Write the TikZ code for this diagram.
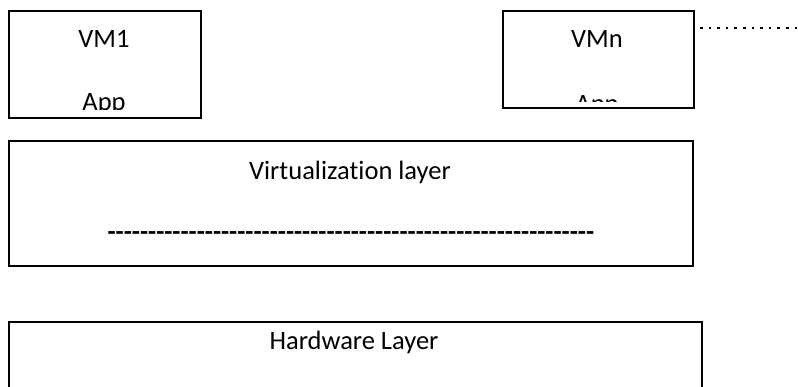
\documentclass[tikz,border=0pt]{standalone}
\usepackage{fontspec}
\newfontfamily\boxfont{Carlito}[Ligatures=NoCommon]
\tikzset{
  layerbox/.style={draw, line width=1.9pt, anchor=north west, inner sep=0pt},
  boxtext/.style={font=\boxfont\fontsize{26.5}{30}\selectfont, anchor=base, inner sep=0pt}
}
\begin{document}
\begin{tikzpicture}[x=1pt,y=-1pt]
  \useasboundingbox (0,0) rectangle (798,386);
  \clip (0,0) rectangle (798,386);

  %BOXES
  \node[layerbox, minimum width=192pt, minimum height=107pt] (vm1) at (8,10) {};
  \node[layerbox, minimum width=191pt, minimum height=97pt] (vmn) at (502,10) {};
  \node[layerbox, minimum width=684pt, minimum height=125pt] (virt) at (8,140) {};
  \node[layerbox, minimum width=693pt, minimum height=110pt] (hw) at (8,321) {};

  %TEXT
  \node[boxtext] (vm1name) at (104,47) {VM1};
  \node[boxtext] (vmnname) at (597,47) {VMn};
  \begin{scope}
    \clip (vm1.north west) rectangle ([yshift=9pt]vm1.south east);
    \node[boxtext] (vm1app) at (104,110) {App};
  \end{scope}
  \begin{scope}
    \clip (vmn.north west) rectangle ([yshift=7pt]vmn.south east);
    \node[boxtext] (vmnapp) at (597,112) {App};
  \end{scope}
  \node[boxtext] (virtname) at (350,179) {Virtualization layer};
  \node[boxtext] (virtdash) at (351,240) {\bfseries\foreach \k in {1,...,60}{\mbox{-}}};
  \node[boxtext] (hwname) at (354,349) {Hardware Layer};

  %DOTS
  \coordinate (dotsL) at (700,28);
  \coordinate (dotsR) at (798,28);
  \draw[line width=2.6pt, dash pattern=on 2.6pt off 6pt] (dotsL) -- (dotsR);
\end{tikzpicture}
\end{document}
